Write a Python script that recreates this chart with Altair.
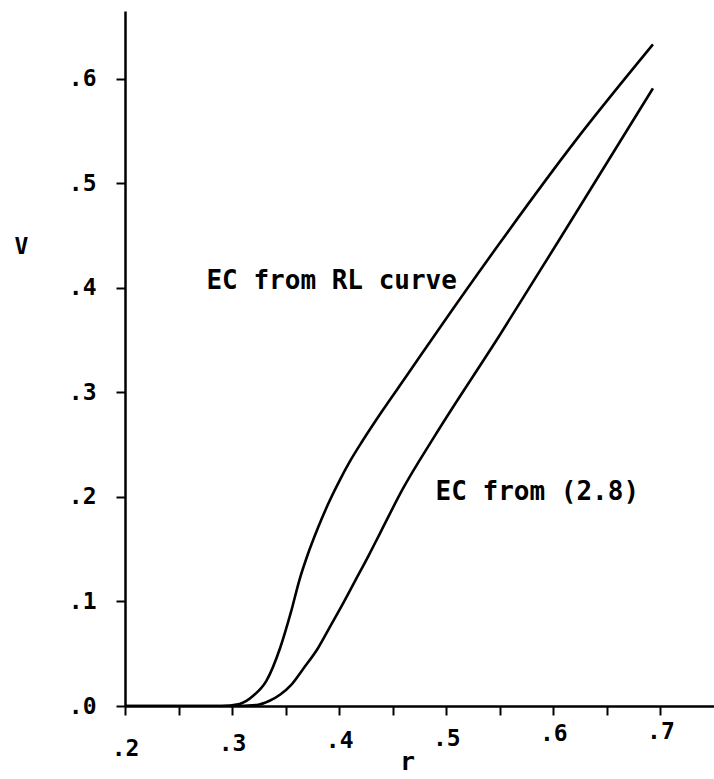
import altair as alt
import pandas as pd

# Upper curve: "EC from RL curve"
r_rl = [0.20, 0.25, 0.29, 0.307, 0.320, 0.332, 0.345, 0.355, 0.363, 0.37, 0.38, 0.39, 0.40, 0.41, 0.422, 0.44, 0.463, 0.494, 0.550, 0.62, 0.693]
v_rl = [0.0, 0.0, 0.0, 0.002, 0.010, 0.024, 0.056, 0.090, 0.121, 0.143, 0.170, 0.194, 0.215, 0.234, 0.254, 0.282, 0.316, 0.362, 0.443, 0.540, 0.633]

# Lower curve: "EC from (2.8)"
r_28 = [0.20, 0.25, 0.30, 0.323, 0.335, 0.345, 0.355, 0.366, 0.38, 0.391, 0.403, 0.415, 0.427, 0.438, 0.459, 0.489, 0.55, 0.62, 0.693]
v_28 = [0.0, 0.0, 0.0, 0.001, 0.005, 0.011, 0.020, 0.035, 0.055, 0.075, 0.097, 0.120, 0.143, 0.165, 0.207, 0.258, 0.355, 0.470, 0.591]

x_ticks = [0.2, 0.25, 0.3, 0.35, 0.4, 0.45, 0.5, 0.55, 0.6, 0.65, 0.7]
y_ticks = [0.0, 0.1, 0.2, 0.3, 0.4, 0.5, 0.6]

label_text = ["EC from RL curve", "EC from (2.8)"]
label_r = [0.393, 0.585]
label_v = [0.407, 0.205]

FONT = "DejaVu Sans Mono"

rows = []
for r, v in zip(r_rl, v_rl):
    rows.append({"r": r, "V": v, "curve": "EC from RL curve"})
for r, v in zip(r_28, v_28):
    rows.append({"r": r, "V": v, "curve": "EC from (2.8)"})
df = pd.DataFrame(rows)
labels = pd.DataFrame({"text": label_text, "r": label_r, "V": label_v})

xscale = alt.Scale(domain=[0.2, 0.75], nice=False, zero=False)
yscale = alt.Scale(domain=[0.0, 0.665], nice=False, zero=False)

x_axis = alt.Axis(
    title="r",
    values=x_ticks,
    grid=False,
    domainColor="black",
    domainWidth=2.5,
    tickColor="black",
    tickWidth=2,
    tickSize=9,
    labelFont=FONT,
    labelFontSize=23,
    labelFontWeight="bold",
    labelColor="black",
    labelFlush=False,
    labelOverlap=False,
    labelExpr="round(datum.value*100) % 10 == 0 ? slice(format(datum.value, '.1f'), 1) : ''",
    labelPadding={
        "condition": [
            {"test": "datum.value < 0.25", "value": 22},
            {"test": "datum.value < 0.35", "value": 17},
            {"test": "datum.value < 0.45", "value": 14},
            {"test": "datum.value < 0.55", "value": 12},
            {"test": "datum.value < 0.65", "value": 7},
        ],
        "value": 5,
    },
    titleFont=FONT,
    titleFontSize=25,
    titleFontWeight="bold",
    titleColor="black",
    titleAnchor="start",
    titleAlign="center",
    titleBaseline="alphabetic",
    titleX=282,
    titleY=63,
)

y_axis = alt.Axis(
    title="V",
    values=y_ticks,
    grid=False,
    domainColor="black",
    domainWidth=2.5,
    tickColor="black",
    tickWidth=2,
    tickSize=9,
    labelFont=FONT,
    labelFontSize=23,
    labelFontWeight="bold",
    labelColor="black",
    labelPadding=20,
    labelFlush=False,
    labelOverlap=False,
    labelExpr="slice(format(datum.value, '.1f'), 1)",
    titleFont=FONT,
    titleFontSize=23,
    titleFontWeight="bold",
    titleColor="black",
    titleAngle=0,
    titleAlign="center",
    titleBaseline="middle",
    titleX=-104,
    titleY=235,
)

lines = alt.Chart(df).mark_line(color="black", strokeWidth=2.6, interpolate="monotone", clip=True).encode(
    x=alt.X("r:Q", scale=xscale, axis=x_axis),
    y=alt.Y("V:Q", scale=yscale, axis=y_axis),
    detail="curve:N",
)

texts = alt.Chart(labels).mark_text(
    font=FONT, fontSize=26, fontWeight="bold", color="black", align="center", baseline="middle"
).encode(
    x=alt.X("r:Q", scale=xscale),
    y=alt.Y("V:Q", scale=yscale),
    text="text:N",
)

chart = (
    alt.layer(lines, texts)
    .properties(
        width=589,
        height=695,
        autosize=alt.AutoSizeParams(type="none"),
        padding={"left": 125, "top": 11, "right": 0, "bottom": 73},
        background="white",
    )
    .configure_view(stroke=None)
)

chart.save("out.html", embed_options={"renderer": "svg", "actions": False})
